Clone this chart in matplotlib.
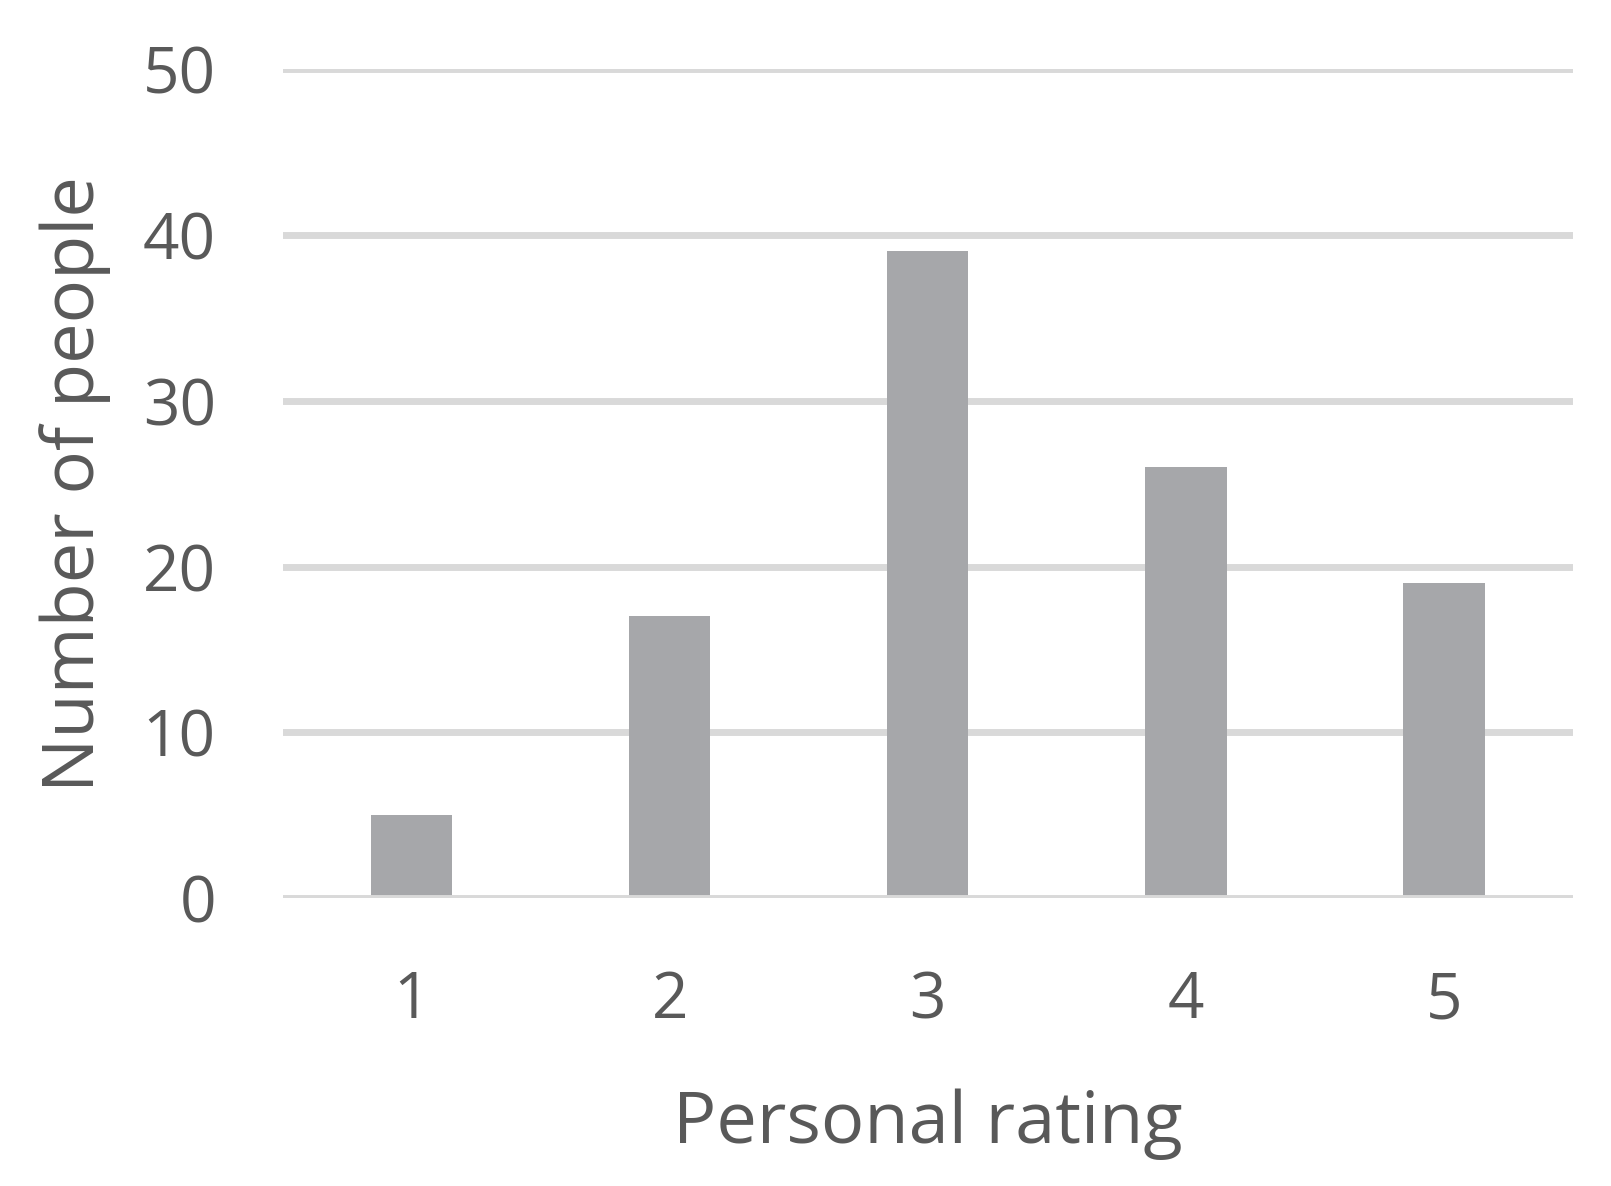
import matplotlib
matplotlib.use("Agg")
import matplotlib.pyplot as plt

categories = ["1", "2", "3", "4", "5"]
values = [5, 17, 39, 26, 19]
yticks = [0, 10, 20, 30, 40, 50]

text_color = "#595959"
bar_color = "#a6a7aa"
grid_color = "#d9d9d9"

plt.rcParams["font.family"] = ["Open Sans", "DejaVu Sans"]

fig = plt.figure(figsize=(16.11, 11.86), dpi=100)
ax = fig.add_axes([0.1754, 0.2425, 0.8010, 0.6995])

x = list(range(len(categories)))
ax.bar(x, values, width=0.315, color=bar_color, zorder=2)
for t in yticks:
    ax.axhline(t, color=grid_color, linewidth=5, zorder=3 if t == 0 else 1)

ax.set_xlim(-0.5, len(categories) - 0.5)
ax.set_ylim(0, 50)
ax.set_yticks(yticks)
ax.set_xticks(x)
ax.set_xticklabels(categories)
for s in ax.spines.values():
    s.set_visible(False)
ax.tick_params(axis="both", length=0, labelsize=46, colors=text_color)
ax.tick_params(axis="y", pad=48)
ax.tick_params(axis="x", pad=51)
for lab in ax.get_yticklabels() + ax.get_xticklabels():
    lab.set_color(text_color)

ax.set_xlabel("Personal rating", fontsize=52, color=text_color, labelpad=40)
ax.set_ylabel("Number of people", fontsize=52, color=text_color, labelpad=23)

fig.savefig("out.png", dpi=100)
